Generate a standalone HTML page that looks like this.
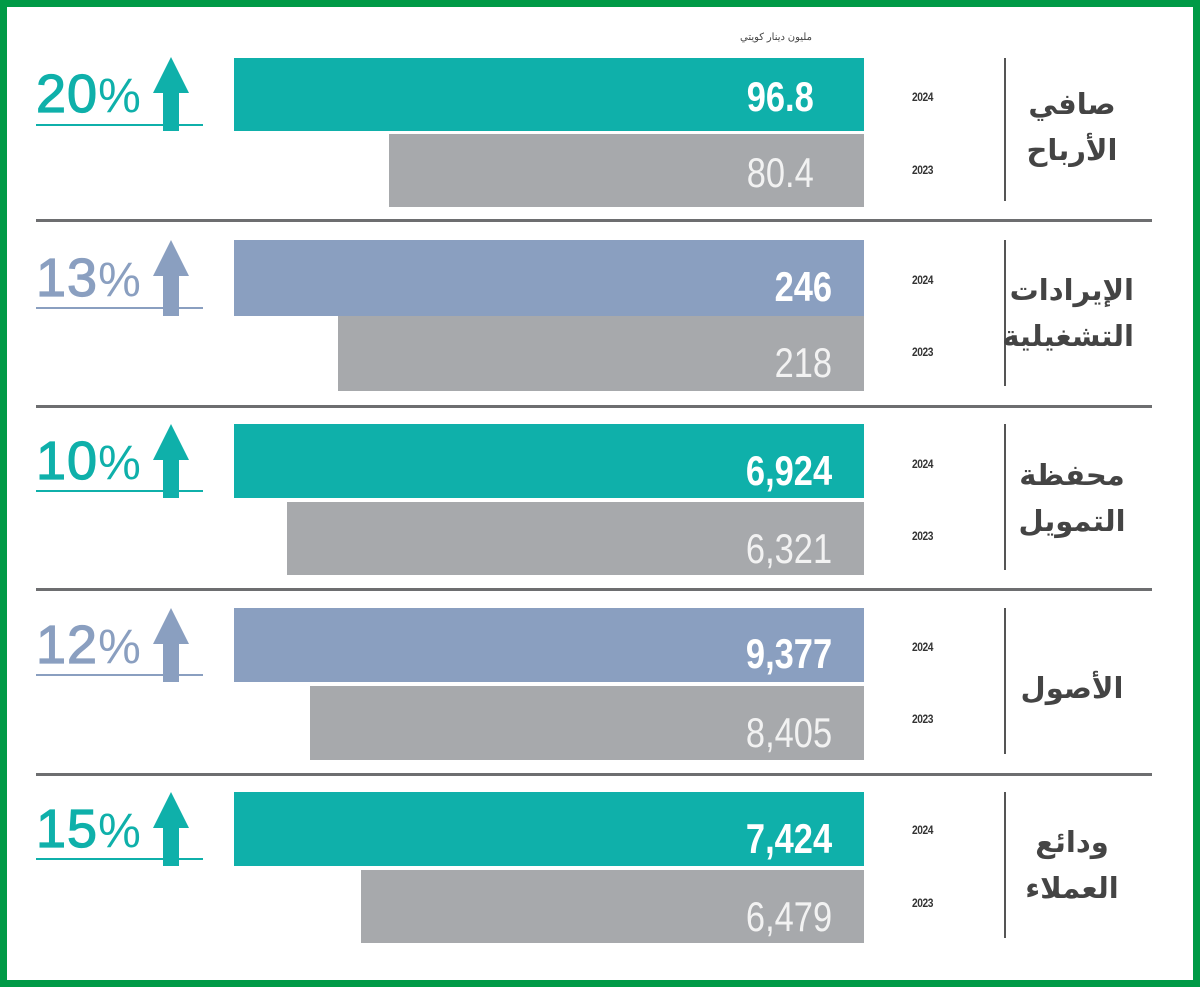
<!DOCTYPE html>
<html><head><meta charset="utf-8"><style>
*{margin:0;padding:0;box-sizing:border-box}
body{width:1200px;height:987px;background:#fff;position:relative;overflow:hidden;font-family:"Liberation Sans","Noto Sans CJK SC",sans-serif}
.frame{position:absolute;left:0;top:0;width:1200px;height:987px;border:7px solid #009a46}
.a{position:absolute}
.bar{position:absolute;right:336px;height:73px}
.v{position:absolute;right:368px;font-family:"Liberation Sans",sans-serif;font-size:42px;line-height:73px;color:#fff;transform:scaleX(0.82);transform-origin:right center}
.b{font-weight:bold}
.yr{position:absolute;left:912px;font-size:12px;font-weight:bold;color:#333;letter-spacing:-0.5px;transform:scaleX(0.85);transform-origin:left}
.sep{position:absolute;left:36px;width:1116px;height:3px;background:#6d6e70}
.vl{position:absolute;left:1004px;width:2px;background:#555}
.lab{position:absolute;left:1010px;width:124px;text-align:center;font-family:"Liberation Sans","DejaVu Sans",sans-serif;font-weight:bold;font-size:29px;line-height:46px;color:#444;direction:rtl}
.pct{position:absolute;left:36px;font-size:54px;line-height:54px;letter-spacing:1px;-webkit-text-stroke:1.2px currentColor}
.pct span{font-size:48px;-webkit-text-stroke:0}
.ul{position:absolute;height:2px}
</style></head><body>
<div class="frame"></div>
<div class="a" style="left:740px;top:32px;font-size:10px;color:#444;direction:rtl">مليون دينار كويتي</div>

<!-- S1 -->
<div class="pct" style="top:67px;color:#0fb0aa">20<span>%</span></div>
<div class="ul" style="left:36px;top:124px;width:167px;background:#0fb0aa"></div>
<svg class="a" style="left:152px;top:57px" width="38" height="74"><polygon points="19,0 37,36 27,36 27,74 11,74 11,36 1,36" fill="#0fb0aa"/></svg>
<div class="bar" style="top:58px;left:234px;background:#0fb0aa"></div>
<div class="bar" style="top:134px;left:389px;background:#a7a9ac"></div>
<div class="v b" style="top:60px;right:386px">96.8</div>
<div class="v" style="top:136px;right:386px;color:#f2f2f2">80.4</div>
<div class="yr" style="top:90px">2024</div><div class="yr" style="top:163px">2023</div>
<div class="vl" style="top:58px;height:143px"></div>
<div class="lab" style="top:82px">صافي<br>الأرباح</div>
<div class="sep" style="top:219px"></div>

<!-- S2 -->
<div class="pct" style="top:251px;color:#8a9fc0">13<span>%</span></div>
<div class="ul" style="left:36px;top:307px;width:167px;background:#8a9fc0"></div>
<svg class="a" style="left:152px;top:240px" width="38" height="76"><polygon points="19,0 37,36 27,36 27,76 11,76 11,36 1,36" fill="#8a9fc0"/></svg>
<div class="bar" style="top:240px;left:234px;height:76px;background:#8a9fc0"></div>
<div class="bar" style="top:316px;left:338px;height:75px;background:#a7a9ac"></div>
<div class="v b" style="top:250px">246</div>
<div class="v" style="top:326px;color:#f2f2f2">218</div>
<div class="yr" style="top:273px">2024</div><div class="yr" style="top:345px">2023</div>
<div class="vl" style="top:240px;height:146px"></div>
<div class="lab" style="top:268px">الإيرادات<br>التشغيلية</div>
<div class="sep" style="top:405px"></div>

<!-- S3 -->
<div class="pct" style="top:434px;color:#0fb0aa">10<span>%</span></div>
<div class="ul" style="left:36px;top:490px;width:167px;background:#0fb0aa"></div>
<svg class="a" style="left:152px;top:424px" width="38" height="74"><polygon points="19,0 37,36 27,36 27,74 11,74 11,36 1,36" fill="#0fb0aa"/></svg>
<div class="bar" style="top:424px;left:234px;height:74px;background:#0fb0aa"></div>
<div class="bar" style="top:502px;left:287px;height:73px;background:#a7a9ac"></div>
<div class="v b" style="top:434px">6,924</div>
<div class="v" style="top:512px;color:#f2f2f2">6,321</div>
<div class="yr" style="top:457px">2024</div><div class="yr" style="top:529px">2023</div>
<div class="vl" style="top:424px;height:146px"></div>
<div class="lab" style="top:453px">محفظة<br>التمويل</div>
<div class="sep" style="top:588px"></div>

<!-- S4 -->
<div class="pct" style="top:618px;color:#8a9fc0">12<span>%</span></div>
<div class="ul" style="left:36px;top:674px;width:167px;background:#8a9fc0"></div>
<svg class="a" style="left:152px;top:608px" width="38" height="74"><polygon points="19,0 37,36 27,36 27,74 11,74 11,36 1,36" fill="#8a9fc0"/></svg>
<div class="bar" style="top:608px;left:234px;height:74px;background:#8a9fc0"></div>
<div class="bar" style="top:686px;left:310px;height:74px;background:#a7a9ac"></div>
<div class="v b" style="top:617px">9,377</div>
<div class="v" style="top:696px;color:#f2f2f2">8,405</div>
<div class="yr" style="top:640px">2024</div><div class="yr" style="top:712px">2023</div>
<div class="vl" style="top:608px;height:146px"></div>
<div class="lab" style="top:666px">الأصول</div>
<div class="sep" style="top:773px"></div>

<!-- S5 -->
<div class="pct" style="top:802px;color:#0fb0aa">15<span>%</span></div>
<div class="ul" style="left:36px;top:858px;width:167px;background:#0fb0aa"></div>
<svg class="a" style="left:152px;top:792px" width="38" height="74"><polygon points="19,0 37,36 27,36 27,74 11,74 11,36 1,36" fill="#0fb0aa"/></svg>
<div class="bar" style="top:792px;left:234px;height:74px;background:#0fb0aa"></div>
<div class="bar" style="top:870px;left:361px;height:73px;background:#a7a9ac"></div>
<div class="v b" style="top:802px">7,424</div>
<div class="v" style="top:880px;color:#f2f2f2">6,479</div>
<div class="yr" style="top:823px">2024</div><div class="yr" style="top:896px">2023</div>
<div class="vl" style="top:792px;height:146px"></div>
<div class="lab" style="top:820px">ودائع<br>العملاء</div>
</body></html>
